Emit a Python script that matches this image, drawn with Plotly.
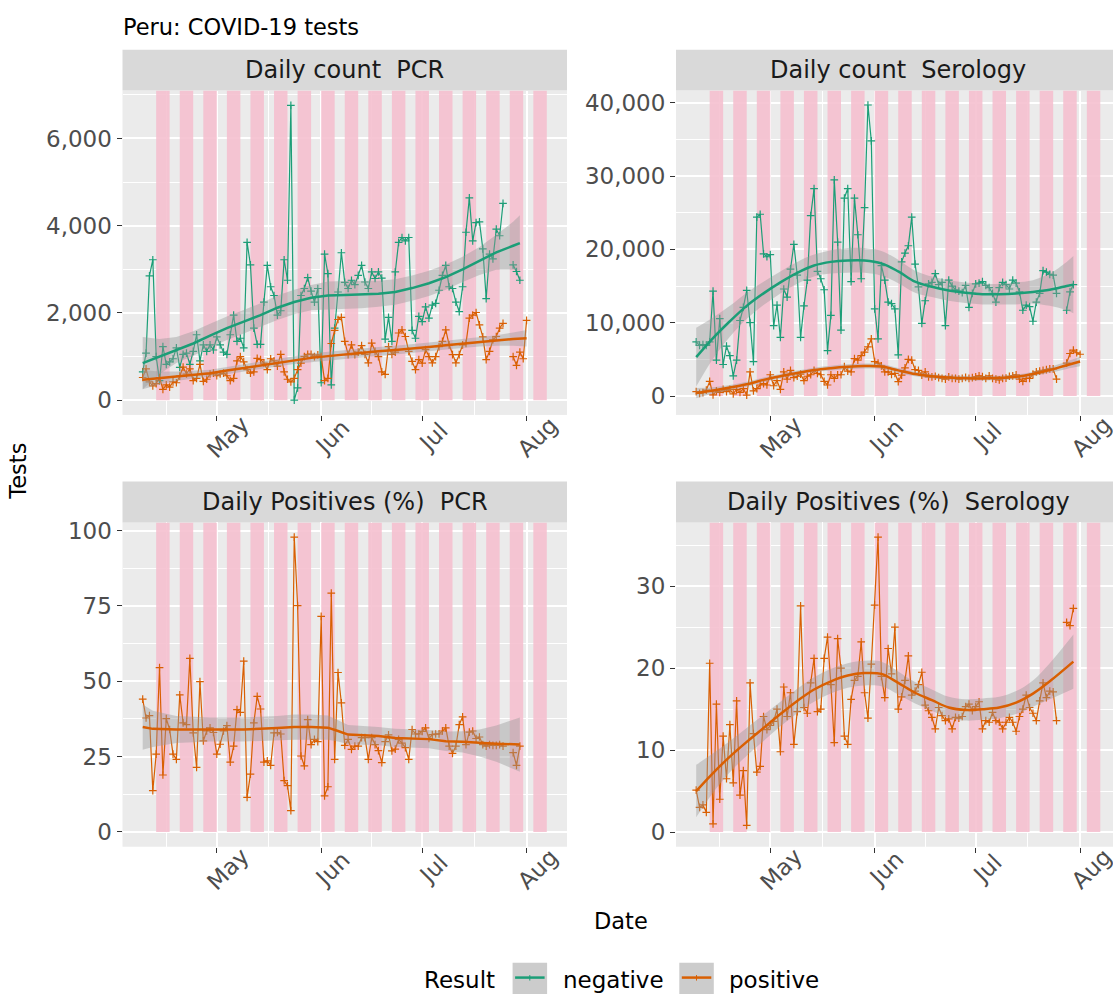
import pandas as pd
import plotly.graph_objects as go

# ---------------------------------------------------------------- data
START = "2020-04-09"          # first reporting day (index 0)

# Daily PCR tests by result
pcr_negative = [650, 1080, 2850, 3220, 1000, 450, 1230, 820, 880, 950,
                1200, 750, 1050, 1080, 820, 1120, 1500, 900, 1270, 1120,
                1270, 1150, 1450, 1270, 1100, 1050, 1500, 1950, 1350, 1420,
                1200, 3620, 3100, 1650, 1280, 1280, 2250, 3090, 2600, 2400,
                1950, 2050, 3220, 2750, 6760, 0, 280, 2400, 2560, 2810,
                2500, 2250, 2560, 400, 3350, 2900, 350, 1650, 2480, 3380,
                2700, 2560, 2750, 2650, 2860, 3090, 2710, 2560, 2940, 2790,
                2940, 2800, 1400, 1900, 1350, 2940, 3620, 3730, 3650, 3730,
                1600, 1420, 1920, 1800, 2140, 1880, 2180, 2220, 2520, 2860,
                3090, 2600, 2560, 2250, 2030, 2600, 3850, 4640, 3650, 4070,
                4090, 3470, 2330, 3350, 3240, 3920, 3770, 4510, None, None,
                3100, 2950, 2750]
pcr_positive = [520, 720, 420, 330, 380, 520, 250, 350, 300, 420,
                400, 550, 760, 600, 720, 450, 500, 820, 430, 480,
                600, 620, 560, 600, 620, 560, 450, 500, 900, 1000,
                880, 700, 620, 650, 960, 930, 850, 700, 950, 900,
                780, 1050, 650, 480, 420, 500, 700, 850, 1000, 1050,
                1050, 1000, 1040, 1000, 450, 500, 1300, 1600, 1850, 1900,
                1350, 1045, 1270, 1045, 1100, 1250, 1050, 855, 1310, 1120,
                1000, 650, 590, 1230, 1050, 1100, 1540, 1610, 1460, 1120,
                890, 700, 930, 850, 1160, 1000, 855, 1000, 1230, 1350,
                1610, 1270, 1045, 855, 1045, 1270, 1300, 1880, 1950, 2010,
                1725, 1450, 930, 1120, 1385, 1460, 1650, 1760, None, None,
                1000, 800, 1100, 950, 1830]

# Daily serology tests by result
sero_negative = [7380, 6900, 7000, 6900, 7400, 14300, 4900, 10550, 4300, 6800,
                 5500, 2760, 4900, 10300, 12100, 14400, 10000, 4700, 24400, 24800,
                 19400, 19000, 19300, 9600, 12400, 8000, 14600, 13500, 17300, 20700,
                 16500, 8000, 12300, 15800, 24600, 28300, 17000, 16000, 14500, 6200,
                 11000, 29500, 21000, 9000, 27000, 28300, 15600, 27000, 22000, 16000,
                 25700, 39700, 34800, 11900, 7800, 17800, 15800, 12800, 12600, 11900,
                 5600, 18300, 19500, 20500, 24400, 18000, 14900, 9900, 13000, 15300,
                 15500, 16700, 15200, 15500, 9600, 15800, 15000, 14500, 14300, 14100,
                 15100, 12100, 14000, 15300, 15400, 15600, 15100, 14800, 14000, 12800,
                 14800, 15500, 15200, 14600, 15800, 15400, 14200, 11700, 12400, 12200,
                 10200, 12800, 14000, 17100, 16900, 16600, 16500, 14000, None, None,
                 11700, 14200, 15200]
sero_positive = [590, 360, 450, 800, 2000, 150, 700, 500, 900, 600,
                 900, 300, 900, 500, 1000, 120, 3300, 700, 1000, 1500,
                 1700, 1500, 2900, 1400, 2100, 900, 3300, 2300, 3500, 2500,
                 2700, 3000, 2100, 2700, 2900, 3500, 3100, 2900, 2000, 1500,
                 2900, 2400, 2900, 2900, 4000, 3400, 3300, 5100, 4900, 5500,
                 6000, 6700, 7800, 4700, 4500, 4100, 3300, 3300, 2950, 3100,
                 1950, 2850, 3850, 5000, 4900, 3600, 3500, 2850, 3300, 2600,
                 2600, 2700, 2500, 2400, 2300, 2600, 2400, 2400, 2300, 2400,
                 2550, 2400, 2500, 2600, 2750, 2650, 2400, 2750, 2400, 2300,
                 2200, 2400, 2450, 2700, 2750, 2900, 2300, 2000, 2400, 2400,
                 3000, 3300, 3400, 3500, 3600, 3700, 3700, 2300, None, None,
                 4500, 5800, 6250, 5900, 5700]

# Daily share of positive results (%)
pcr_pct_positive = [44.1, 37.8, 38.6, 13.7, 25.8, 54.5, 18.9, 37.6, 34.0, 25.8,
                    24.1, 45.5, 36.2, 35.6, 57.6, 32.9, 21.4, 49.9, 30.2, 33.5,
                    34.5, 33.0, 25.8, 29.1, 33.5, 35.3, 23.2, 28.5, 40.6, 39.7,
                    56.7, 11.5, 19.2, 36.2, 45.0, 40.8, 23.2, 23.6, 22.1, 32.9,
                    33.0, 32.5, 17.0, 15.4, 7.1, 97.8, 75.1, 25.2, 21.9, 37.3,
                    29.0, 30.7, 30.0, 71.5, 12.0, 15.0, 79.2, 24.1, 52.9, 42.8,
                    28.7, 30.7, 27.4, 28.5, 28.5, 31.3, 31.3, 24.1, 31.3, 29.0,
                    27.0, 23.0, 30.0, 32.2, 26.9, 27.5, 30.7, 29.5, 28.0, 24.1,
                    34.0, 32.5, 32.5, 33.4, 34.5, 31.0, 32.3, 32.5, 32.5, 33.5,
                    34.5, 28.5, 26.1, 28.5, 35.6, 38.2, 29.0, 33.1, 33.5, 31.0,
                    31.5, 29.0, 28.5, 29.0, 28.7, 28.7, 29.0, 28.5, None, None,
                    26.3, 22.1, 28.5]
sero_pct_positive = [5.1, 3.0, 3.3, 2.4, 20.6, 1.0, 15.6, 4.0, 11.7, 6.5,
                     13.1, 6.0, 16.0, 4.5, 7.5, 0.8, 18.2, 12.0, 7.3, 8.0,
                     14.1, 12.5, 13.0, 13.5, 15.0, 9.8, 17.7, 14.1, 17.0, 10.7,
                     14.7, 27.6, 15.2, 14.5, 18.2, 21.2, 14.7, 15.0, 21.2, 23.8,
                     18.0, 10.9, 23.6, 20.0, 11.7, 10.7, 16.2, 18.5, 19.0, 23.2,
                     17.0, 13.9, 20.5, 27.7, 36.0, 19.0, 16.4, 22.4, 19.3, 25.0,
                     15.0, 16.5, 18.5, 21.5, 16.7, 17.2, 18.0, 19.5, 15.5, 14.8,
                     14.0, 12.6, 15.2, 14.2, 13.6, 13.8, 12.6, 14.0, 13.9, 14.1,
                     15.3, 15.6, 14.8, 15.3, 15.9, 12.6, 13.6, 13.4, 14.6, 13.6,
                     13.4, 12.6, 13.4, 14.0, 13.4, 12.3, 14.1, 15.0, 16.7, 15.2,
                     14.5, 13.6, 16.0, 18.2, 16.4, 17.2, 17.1, 13.6, None, None,
                     25.6, 25.2, 27.3]

# Smoothed trends (day index, fitted value, half-width of confidence band)
trend_days_neg = [0, 5, 10, 15, 20, 25, 30, 35, 40, 45, 50, 55, 60, 65, 70,
                  75, 80, 85, 90, 95, 100, 105, 110, 112]
trend_days_pos = [0, 5, 10, 15, 20, 25, 30, 35, 40, 45, 50, 55, 60, 65, 70,
                  75, 80, 85, 90, 95, 100, 105, 110, 114]
pcr_neg_trend = [850, 1000, 1150, 1300, 1480, 1650, 1800, 1950, 2120, 2250, 2350, 2400,
                 2410, 2420, 2440, 2480, 2570, 2680, 2820, 3000, 3190, 3390, 3540, 3600]
pcr_neg_band = [600, 400, 300, 280, 270, 270, 270, 270, 280, 280, 290, 320,
                320, 310, 300, 290, 290, 290, 290, 290, 320, 400, 550, 640]
pcr_pos_trend = [470, 510, 550, 590, 620, 680, 740, 800, 860, 920, 970, 1010,
                 1050, 1090, 1120, 1150, 1180, 1220, 1260, 1300, 1340, 1370, 1400, 1420]
pcr_pos_band = [220, 150, 110, 90, 80, 80, 80, 80, 90, 90, 100, 100,
                100, 100, 100, 100, 100, 100, 100, 100, 110, 120, 150, 190]
sero_neg_trend = [5300, 7900, 10200, 12300, 14000, 15500, 16800, 17800, 18300, 18500, 18500, 18100,
                  17000, 15600, 14900, 14400, 14100, 13900, 13900, 14000, 14200, 14500, 15000, 15200]
sero_neg_band = [4000, 2800, 2100, 1800, 1600, 1500, 1500, 1500, 1600, 1700, 1700, 1700,
                 1600, 1500, 1400, 1400, 1400, 1400, 1400, 1500, 1600, 2200, 3300, 3900]
sero_pos_trend = [400, 750, 1150, 1600, 2200, 2700, 3150, 3550, 3800, 3980, 4080, 4020,
                  3500, 3000, 2680, 2520, 2420, 2400, 2480, 2620, 3000, 3550, 4200, 4700]
sero_pos_band = [700, 450, 350, 330, 320, 320, 320, 320, 330, 340, 340, 340,
                 320, 310, 300, 300, 300, 300, 300, 300, 320, 380, 500, 650]
pcr_pct_days = [0, 3, 10, 20, 30, 40, 45, 50, 55, 58, 61, 70, 75, 85, 90, 95, 100, 105, 112]
pcr_pct_trend = [34.8, 34.2, 34.0, 34.0, 34.0, 34.5, 34.8, 34.8, 34.6, 33.5, 32.3, 31.8,
                 31.2, 30.8, 30.1, 29.9, 29.5, 29.3, 29.0]
pcr_pct_band = [7.5, 6.0, 4.5, 4.0, 4.0, 4.0, 4.2, 4.2, 4.0, 3.5, 3.2, 3.0,
                3.0, 3.0, 3.2, 3.5, 4.5, 6.0, 9.0]
sero_pct_days = [0, 5, 10, 15, 20, 25, 30, 35, 40, 45, 50, 55, 60, 65, 70, 75, 80,
                 85, 90, 95, 100, 105, 112]
sero_pct_trend = [5.0, 7.2, 9.2, 11.0, 12.7, 14.4, 16.0, 17.4, 18.4, 19.1, 19.4, 19.3,
                  18.2, 17.0, 16.1, 15.2, 14.9, 15.0, 15.2, 15.8, 16.9, 18.4, 20.8]
sero_pct_band = [3.2, 2.4, 1.9, 1.7, 1.6, 1.5, 1.5, 1.5, 1.5, 1.5, 1.5, 1.5,
                 1.4, 1.3, 1.3, 1.3, 1.3, 1.3, 1.3, 1.4, 1.6, 2.2, 3.3]

# Shaded weekday spans (Monday to Friday)
shade_starts = ["2020-04-13", "2020-04-20", "2020-04-27", "2020-05-04", "2020-05-11",
                "2020-05-18", "2020-05-25", "2020-06-01", "2020-06-08", "2020-06-15",
                "2020-06-22", "2020-06-29", "2020-07-06", "2020-07-13", "2020-07-20",
                "2020-07-27", "2020-08-03"]

month_ticks = ["2020-05-01", "2020-06-01", "2020-07-01", "2020-08-01"]
month_labels = ["May", "Jun", "Jul", "Aug"]
month_minor = ["2020-04-16", "2020-05-16 12:00", "2020-06-16", "2020-07-16 12:00"]

# ---------------------------------------------------------------- style
W, H = 1113, 994
FONT = "DejaVu Sans"
GREEN, ORANGE = "#1B9E77", "#D95F02"
PANEL_BG = "#EBEBEB"
STRIP_BG = "#D9D9D9"
SHADE = "rgba(245,190,206,0.88)"
RIBBON = "rgba(153,153,153,0.42)"

LEFT = (122.5, 567.0)          # panel x extent (px)
RIGHT0 = 676.0                 # right column starts here; page cuts it at W
TOP = (86.0, 412.0)            # panel y extent (px)
BOTTOM = (520.0, 846.0)

X_LO = pd.Timestamp("2020-04-03")
X_HI = pd.Timestamp("2020-08-13")
panel_w = LEFT[1] - LEFT[0]
X_HI_RIGHT = X_LO + (X_HI - X_LO) * ((W - RIGHT0) / panel_w)

start = pd.Timestamp(START)


def px_x(p):
    return p / W


def px_y(p):
    return 1 - p / H


def day_dates(days):
    return [start + pd.Timedelta(days=d) for d in days]


def run_dates(values):
    return list(pd.date_range(start, periods=len(values), freq="D"))


def fmt(ts):
    return ts.strftime("%Y-%m-%d %H:%M:%S")


fig = go.Figure()


def raw_trace(values, color, xa, ya):
    fig.add_trace(go.Scatter(
        x=run_dates(values), y=values, xaxis=xa, yaxis=ya, mode="lines+markers",
        line=dict(color=color, width=1.2), connectgaps=False,
        marker=dict(symbol="cross-thin", size=5.5, color=color, line=dict(width=1.2, color=color)),
        showlegend=False, hoverinfo="skip"))


def trend_trace(days, fit, band, color, xa, ya, shape):
    xs = day_dates(days)
    lo = [f - b for f, b in zip(fit, band)]
    hi = [f + b for f, b in zip(fit, band)]
    fig.add_trace(go.Scatter(x=xs, y=lo, xaxis=xa, yaxis=ya, mode="lines",
                             line=dict(width=0, shape=shape), showlegend=False, hoverinfo="skip"))
    fig.add_trace(go.Scatter(x=xs, y=hi, xaxis=xa, yaxis=ya, mode="lines", fill="tonexty",
                             fillcolor=RIBBON, line=dict(width=0, shape=shape),
                             showlegend=False, hoverinfo="skip"))
    fig.add_trace(go.Scatter(x=xs, y=fit, xaxis=xa, yaxis=ya, mode="lines",
                             line=dict(color=color, width=2.5, shape=shape),
                             showlegend=False, hoverinfo="skip"))


# top-left: PCR counts
raw_trace(pcr_negative, GREEN, "x", "y")
raw_trace(pcr_positive, ORANGE, "x", "y")
trend_trace(trend_days_neg, pcr_neg_trend, pcr_neg_band, GREEN, "x", "y", "linear")
trend_trace(trend_days_pos, pcr_pos_trend, pcr_pos_band, ORANGE, "x", "y", "linear")
# top-right: serology counts
raw_trace(sero_negative, GREEN, "x2", "y2")
raw_trace(sero_positive, ORANGE, "x2", "y2")
trend_trace(trend_days_neg, sero_neg_trend, sero_neg_band, GREEN, "x2", "y2", "spline")
trend_trace(trend_days_pos, sero_pos_trend, sero_pos_band, ORANGE, "x2", "y2", "spline")
# bottom-left: PCR positive share
raw_trace(pcr_pct_positive, ORANGE, "x3", "y3")
trend_trace(pcr_pct_days, pcr_pct_trend, pcr_pct_band, ORANGE, "x3", "y3", "linear")
# bottom-right: serology positive share
raw_trace(sero_pct_positive, ORANGE, "x4", "y4")
trend_trace(sero_pct_days, sero_pct_trend, sero_pct_band, ORANGE, "x4", "y4", "spline")

panels = [
    # x axis, y axis, x px extent, y px extent, x range, y range, y ticks, y minor, strip text
    ("x", "y", LEFT, TOP, (X_LO, X_HI), (-338, 7098),
     [0, 2000, 4000, 6000], [1000, 3000, 5000, 7000], "Daily count  PCR"),
    ("x2", "y2", (RIGHT0, W), TOP, (X_LO, X_HI_RIGHT), (-2580, 41670),
     [0, 10000, 20000, 30000, 40000], [5000, 15000, 25000, 35000], "Daily count  Serology"),
    ("x3", "y3", LEFT, BOTTOM, (X_LO, X_HI), (-4.9, 102.7),
     [0, 25, 50, 75, 100], [12.5, 37.5, 62.5, 87.5], "Daily Positives (%)  PCR"),
    ("x4", "y4", (RIGHT0, W), BOTTOM, (X_LO, X_HI_RIGHT), (-1.8, 37.8),
     [0, 10, 20, 30], [5, 15, 25, 35], "Daily Positives (%)  Serology"),
]

shapes, annotations, layout_axes = [], [], {}
tick_font = dict(family=FONT, size=23, color="#4D4D4D")

for xa, ya, xpx, ypx, xr, yr, yt, ymin, strip in panels:
    xkey = "xaxis" + xa[1:]
    ykey = "yaxis" + ya[1:]
    layout_axes[xkey] = dict(
        type="date", domain=[px_x(xpx[0]), px_x(xpx[1])], range=[fmt(xr[0]), fmt(xr[1])],
        anchor=ya, tickmode="array", tickvals=month_ticks, showticklabels=False,
        ticks="outside", ticklen=5, tickwidth=1.2, tickcolor="#333333",
        showgrid=True, gridcolor="white", gridwidth=1.7,
        minor=dict(tickmode="array", tickvals=month_minor, showgrid=True,
                   gridcolor="white", gridwidth=0.9, ticks=""),
        zeroline=False, showline=False, fixedrange=True)
    layout_axes[ykey] = dict(
        domain=[px_y(ypx[1]), px_y(ypx[0])], range=list(yr), anchor=xa,
        tickmode="array", tickvals=yt, ticktext=[f"{v:,}" for v in yt], tickfont=tick_font,
        ticks="outside", ticklen=5, tickwidth=1.2, tickcolor="#333333",
        showgrid=True, gridcolor="white", gridwidth=1.7,
        minor=dict(tickmode="array", tickvals=ymin, showgrid=True,
                   gridcolor="white", gridwidth=0.9, ticks=""),
        zeroline=False, showline=False, fixedrange=True)

    # weekday shading from zero up to the panel top
    for s in shade_starts:
        s0 = pd.Timestamp(s)
        shapes.append(dict(type="rect", xref=xa, yref=ya, x0=s0, x1=s0 + pd.Timedelta(days=4),
                           y0=0, y1=yr[1], fillcolor=SHADE, line=dict(width=0), layer="between"))

    # facet strip
    full_right = xpx[0] + panel_w
    shapes.append(dict(type="rect", xref="paper", yref="paper",
                       x0=px_x(xpx[0]), x1=px_x(min(full_right, W)),
                       y0=px_y(ypx[0]), y1=px_y(ypx[0] - 41),
                       fillcolor=STRIP_BG, line=dict(width=0), layer="below"))
    annotations.append(dict(text=strip, xref="paper", yref="paper",
                            x=px_x(xpx[0] + panel_w / 2), y=px_y(ypx[0] - 20.5),
                            xanchor="center", yanchor="middle", showarrow=False,
                            font=dict(family=FONT, size=24, color="#1A1A1A")))

    # rotated month labels under the panel
    for t, lab in zip(month_ticks, month_labels):
        annotations.append(dict(text=lab, xref=xa, yref="paper", x=t, y=px_y(ypx[1]),
                                xanchor="center", yanchor="middle", xshift=11, yshift=-22,
                                textangle=-45, showarrow=False, font=tick_font))

# titles
annotations += [
    dict(text="Peru: COVID-19 tests", xref="paper", yref="paper", x=px_x(121), y=px_y(22),
         xanchor="left", yanchor="middle", showarrow=False,
         font=dict(family=FONT, size=22.5, color="black")),
    dict(text="Tests", xref="paper", yref="paper", x=px_x(18), y=px_y(469),
         xanchor="center", yanchor="middle", textangle=-90, showarrow=False,
         font=dict(family=FONT, size=22.5, color="black")),
    dict(text="Date", xref="paper", yref="paper", x=px_x(621), y=px_y(921),
         xanchor="center", yanchor="middle", showarrow=False,
         font=dict(family=FONT, size=22.5, color="black")),
]

# legend
legend_font = dict(family=FONT, size=23, color="black")
annotations.append(dict(text="Result", xref="paper", yref="paper", x=px_x(459.5), y=px_y(980),
                        xanchor="center", yanchor="middle", showarrow=False, font=legend_font))
for key_x0, color, label, label_x in [(512.6, GREEN, "negative", 613.0),
                                      (679.3, ORANGE, "positive", 774.0)]:
    shapes.append(dict(type="rect", xref="paper", yref="paper",
                       x0=px_x(key_x0), x1=px_x(key_x0 + 34.5), y0=px_y(994), y1=px_y(962.7),
                       fillcolor="#CCCCCC", line=dict(width=0)))
    shapes.append(dict(type="line", xref="paper", yref="paper",
                       x0=px_x(key_x0 + 2.5), x1=px_x(key_x0 + 32), y0=px_y(977.5), y1=px_y(977.5),
                       line=dict(color=color, width=2.5)))
    shapes.append(dict(type="line", xref="paper", yref="paper",
                       x0=px_x(key_x0 + 17.2), x1=px_x(key_x0 + 17.2), y0=px_y(980.5), y1=px_y(975),
                       line=dict(color=color, width=1)))
    annotations.append(dict(text=label, xref="paper", yref="paper", x=px_x(label_x), y=px_y(980),
                            xanchor="center", yanchor="middle", showarrow=False, font=legend_font))

fig.update_layout(
    width=W, height=H, margin=dict(l=0, r=0, t=0, b=0),
    paper_bgcolor="white", plot_bgcolor=PANEL_BG,
    font=dict(family=FONT), showlegend=False,
    shapes=shapes, annotations=annotations, **layout_axes)

fig.write_html("out.html")
